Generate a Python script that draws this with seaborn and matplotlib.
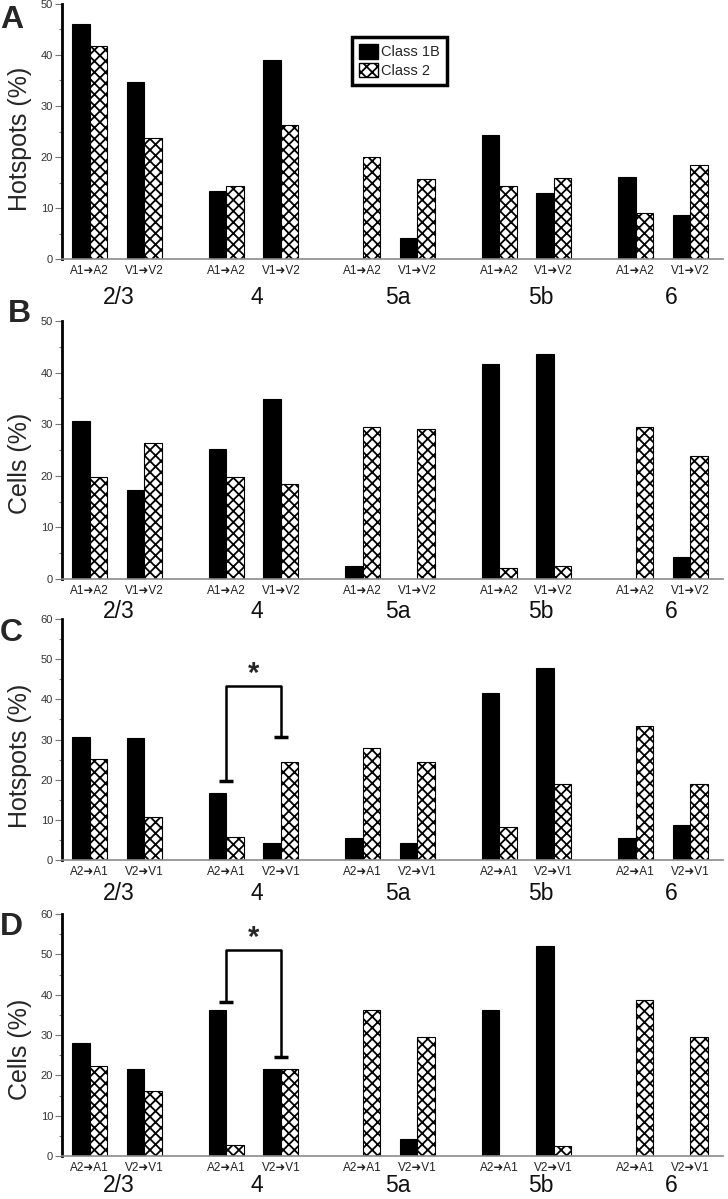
import numpy as np
import pandas as pd
import seaborn as sns
import matplotlib.pyplot as plt
from matplotlib.patches import Patch

# Categories
layers = ['2/3', '4', '5a', '5b', '6']
classes = ['Class 1B', 'Class 2']
fwd_pairs = ['A1➜A2', 'V1➜V2']
back_pairs = ['A2➜A1', 'V2➜V1']

# Values, per layer: [A pair, V pair]
a_class1b = [46.0, 34.8, 13.4, 39.1, 0.0, 4.2, 24.3, 13.0, 16.1, 8.6]
a_class2 = [41.8, 23.7, 14.4, 26.3, 20.0, 15.7, 14.4, 15.8, 9.0, 18.5]
b_class1b = [30.6, 17.3, 25.1, 34.9, 2.6, 0.0, 41.7, 43.6, 0.0, 4.2]
b_class2 = [19.7, 26.4, 19.7, 18.4, 29.5, 29.0, 2.2, 2.6, 29.5, 23.8]
c_class1b = [30.6, 30.4, 16.8, 4.3, 5.6, 4.3, 41.7, 47.9, 5.6, 8.6]
c_class2 = [25.1, 10.8, 5.7, 24.3, 28.0, 24.3, 8.3, 19.0, 33.4, 19.0]
d_class1b = [27.9, 21.6, 36.1, 21.6, 0.0, 4.3, 36.1, 52.1, 0.0, 0.0]
d_class2 = [22.3, 16.2, 2.7, 21.6, 36.1, 29.6, 0.0, 2.6, 38.8, 29.6]

# Significance brackets (layer 4): top, left foot, right foot
c_sig = [43.3, 19.7, 30.5]
d_sig = [51.0, 38.2, 24.5]

sns.set_style('ticks')
plt.rcParams['font.family'] = ['Liberation Sans Narrow', 'Liberation Sans', 'DejaVu Sans']
plt.rcParams['hatch.linewidth'] = 1.3

W, H = 728, 1199
fig = plt.figure(figsize=(W / 100, H / 100), dpi=100)


def rect(top, bottom):
    return [62 / W, 1 - bottom / H, 661 / W, (bottom - top) / H]


# layer labels sit a little right of the pair midpoints in the original
grp_shift = [2, 3, 8, 14, 8]

panels = [
    ('A', 'Hotspots (%)', 50, a_class1b, a_class2, fwd_pairs, None, (4, 259), 39, 0, 0.47),
    ('B', 'Cells (%)', 50, b_class1b, b_class2, fwd_pairs, None, (321, 579), 32, 8, 0.45),
    ('C', 'Hotspots (%)', 60, c_class1b, c_class2, back_pairs, c_sig, (619, 860), 33, 0, 0.43),
    ('D', 'Cells (%)', 60, d_class1b, d_class2, back_pairs, d_sig, (914, 1156), 30, 0, 0.44),
]
letter_y = {'A': 5, 'B': 299, 'C': 618, 'D': 912}

for letter, ylab, ymax, v1b, v2, pairs, sig, (top, bottom), grp_off, lx, ly in panels:
    ax = fig.add_axes(rect(top, bottom))
    rows = []
    for g in range(len(layers)):
        for p in range(2):
            pos = g * 2.5 + p
            rows.append({'pos': pos, 'value': v1b[g * 2 + p], 'cls': classes[0]})
            rows.append({'pos': pos, 'value': v2[g * 2 + p], 'cls': classes[1]})
    df = pd.DataFrame(rows)

    sns.barplot(data=df, x='pos', y='value', hue='cls', hue_order=classes,
                palette={'Class 1B': 'black', 'Class 2': 'white'},
                native_scale=True, orient='x', width=0.64, errorbar=None,
                edgecolor='black', linewidth=0.8, legend=False, ax=ax)

    for i, cont in enumerate(ax.containers):
        for bar in cont:
            if bar.get_height() == 0:
                bar.set_visible(False)
            if i == 1:
                bar.set_hatch('xxx')

    positions = sorted(df['pos'].unique())
    ax.set_xlim(-0.51, 11.6)
    ax.set_ylim(0, ymax)
    ax.set_xticks(positions)
    ax.set_xticklabels(pairs * len(layers))
    ax.set_yticks(np.arange(0, ymax + 1, 10))
    ax.set_yticks(np.arange(0, ymax + 1, 5), minor=True)
    ax.set_xlabel('')
    ax.set_ylabel(ylab, fontsize=18, family=['Liberation Sans', 'DejaVu Sans'])
    ax.yaxis.set_label_coords(-0.045, ly)

    sns.despine(ax=ax)
    ax.spines['left'].set_linewidth(2)
    ax.spines['left'].set_color('black')
    ax.spines['bottom'].set_linewidth(1.2)
    ax.spines['bottom'].set_color('#8a8a8a')
    ax.tick_params(axis='x', length=0, pad=4, labelsize=8.5, labelcolor='#222222')
    ax.tick_params(axis='y', which='major', length=5, width=0.8, color='#777777',
                   labelsize=8, labelcolor='#333333', pad=1.5)
    ax.tick_params(axis='y', which='minor', length=2.5, width=0.8, color='#777777')

    for g, name in enumerate(layers):
        ax.annotate(name, xy=(g * 2.5 + 0.5, 0), xycoords=('data', 'axes fraction'),
                    xytext=(grp_shift[g], -grp_off), textcoords='offset pixels',
                    ha='center', va='center', fontsize=16.5, color='#111111')

    if sig is not None:
        s_top, s_left, s_right = sig
        x0, x1 = 2.5, 3.5
        ax.plot([x0, x0, x1, x1], [s_left, s_top, s_top, s_right],
                color='black', lw=1.8, solid_capstyle='butt', clip_on=False)
        for xx, yy in [(x0, s_left), (x1, s_right)]:
            ax.plot([xx - 0.13, xx + 0.13], [yy, yy], color='black', lw=2.5,
                    solid_capstyle='butt')
        ax.annotate('*', xy=((x0 + x1) / 2, s_top), xytext=(0, -2),
                    textcoords='offset pixels', ha='center', va='bottom',
                    fontsize=21, fontweight='bold', family=['Liberation Sans', 'DejaVu Sans'])

    if letter == 'A':
        handles = [Patch(facecolor='black', edgecolor='black'),
                   Patch(facecolor='white', edgecolor='black', hatch='xxx')]
        leg = ax.legend(handles, classes, loc='upper left', bbox_to_anchor=(0.439, 0.871),
                        borderaxespad=0, frameon=True, fancybox=False, edgecolor='black',
                        framealpha=1, fontsize=10.5, handlelength=1.3, handleheight=1.15,
                        borderpad=0.5, labelspacing=0.25, handletextpad=0.2)
        leg.get_frame().set_linewidth(2.5)

    fig.text(lx / W, 1 - letter_y[letter] / H, letter, ha='left', va='top',
             fontsize=23, fontweight='bold', family=['Liberation Sans', 'DejaVu Sans'])

fig.savefig('out.png', dpi=100)
